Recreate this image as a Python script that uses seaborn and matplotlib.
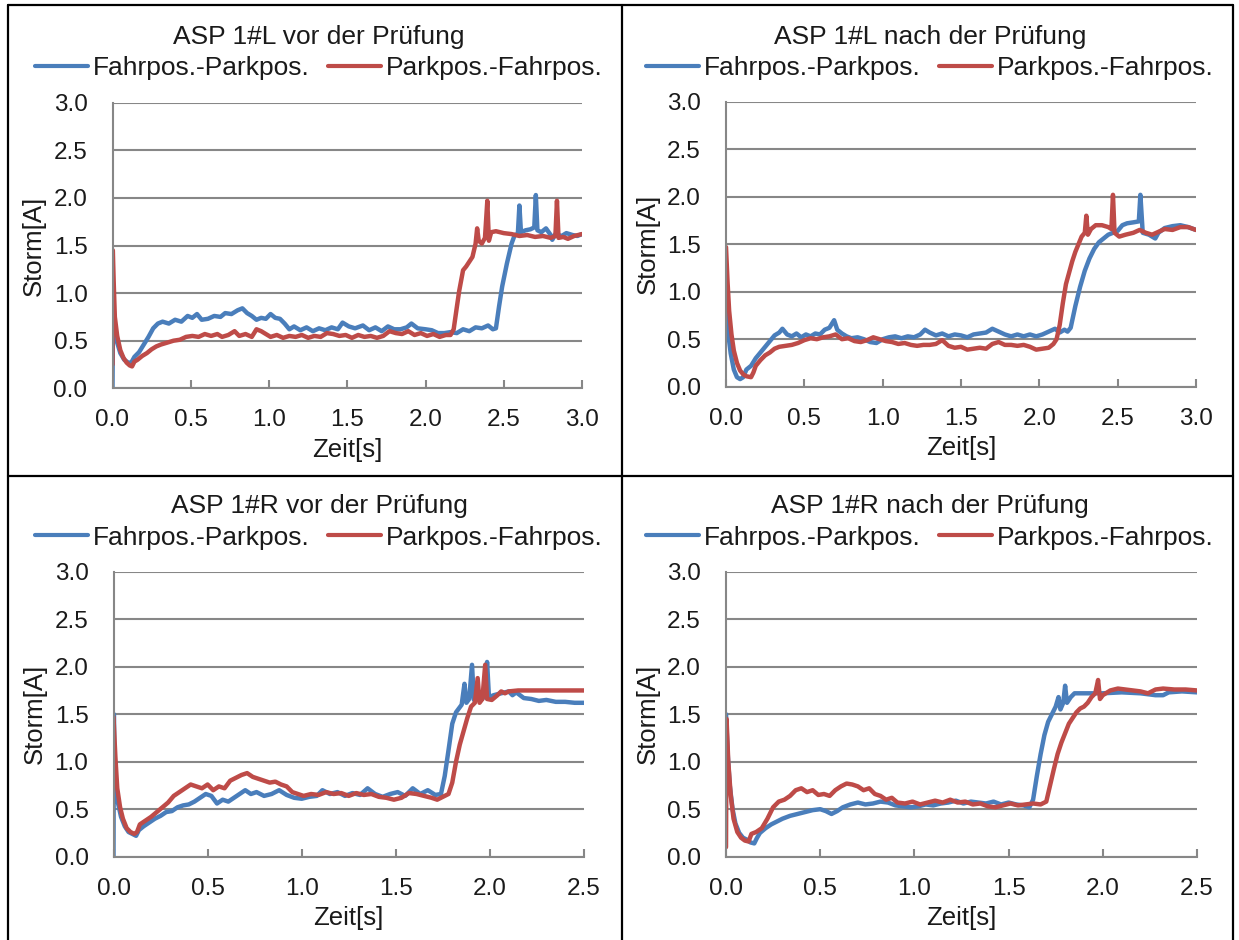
import numpy as np
import pandas as pd
import seaborn as sns
import matplotlib.pyplot as plt
from matplotlib.lines import Line2D
from matplotlib.ticker import FormatStrFormatter

# ---- data ----
series_names = ["Fahrpos.-Parkpos.", "Parkpos.-Fahrpos."]

# ASP 1#L vor der Prüfung
l_vor_fp_t = [0.000, 0.003, 0.015, 0.030, 0.050, 0.075, 0.100, 0.120, 0.140, 0.170, 0.200, 0.230,
              0.260, 0.290, 0.320, 0.360, 0.400, 0.440, 0.480, 0.510, 0.540, 0.570, 0.610, 0.650,
              0.690, 0.720, 0.760, 0.800, 0.830, 0.860, 0.890, 0.920, 0.950, 0.980, 1.010, 1.040,
              1.070, 1.100, 1.130, 1.160, 1.200, 1.240, 1.280, 1.320, 1.360, 1.400, 1.440, 1.470,
              1.510, 1.550, 1.600, 1.640, 1.680, 1.720, 1.760, 1.800, 1.840, 1.880, 1.910, 1.950,
              2.000, 2.040, 2.080, 2.120, 2.160, 2.200, 2.240, 2.280, 2.320, 2.360, 2.400, 2.430,
              2.450, 2.470, 2.490, 2.520, 2.550, 2.570, 2.590, 2.600, 2.610, 2.640, 2.670, 2.695,
              2.705, 2.715, 2.740, 2.770, 2.800, 2.810, 2.830, 2.870, 2.900, 2.940, 2.970, 3.000]
l_vor_fp_i = [0.00, 0.72, 0.62, 0.48, 0.37, 0.30, 0.27, 0.27, 0.33, 0.38, 0.46, 0.54,
              0.63, 0.68, 0.70, 0.68, 0.72, 0.70, 0.76, 0.74, 0.78, 0.72, 0.73, 0.76,
              0.75, 0.79, 0.78, 0.82, 0.84, 0.79, 0.76, 0.72, 0.74, 0.73, 0.78, 0.74,
              0.73, 0.68, 0.62, 0.65, 0.61, 0.64, 0.60, 0.63, 0.61, 0.64, 0.62, 0.69,
              0.65, 0.63, 0.66, 0.61, 0.64, 0.60, 0.65, 0.62, 0.62, 0.64, 0.68, 0.63,
              0.62, 0.61, 0.58, 0.58, 0.59, 0.58, 0.62, 0.60, 0.64, 0.63, 0.66, 0.62,
              0.63, 0.86, 1.07, 1.31, 1.52, 1.61, 1.62, 1.92, 1.64, 1.66, 1.67, 1.69,
              2.03, 1.66, 1.64, 1.68, 1.61, 1.56, 1.62, 1.60, 1.63, 1.61, 1.60, 1.62]
l_vor_pf_t = [0.000, 0.002, 0.008, 0.015, 0.030, 0.050, 0.070, 0.090, 0.110, 0.125, 0.140, 0.160,
              0.190, 0.220, 0.250, 0.280, 0.310, 0.350, 0.390, 0.430, 0.470, 0.510, 0.550, 0.590,
              0.630, 0.670, 0.700, 0.740, 0.780, 0.810, 0.850, 0.890, 0.920, 0.950, 0.980, 1.010,
              1.050, 1.090, 1.130, 1.170, 1.210, 1.250, 1.290, 1.330, 1.370, 1.410, 1.450, 1.490,
              1.530, 1.570, 1.610, 1.650, 1.690, 1.730, 1.770, 1.810, 1.850, 1.890, 1.930, 1.970,
              2.010, 2.050, 2.090, 2.130, 2.160, 2.180, 2.200, 2.215, 2.240, 2.260, 2.280, 2.300,
              2.320, 2.330, 2.340, 2.360, 2.380, 2.395, 2.405, 2.420, 2.450, 2.500, 2.550, 2.600,
              2.650, 2.700, 2.750, 2.800, 2.830, 2.840, 2.850, 2.880, 2.910, 2.950, 3.000]
l_vor_pf_i = [0.25, 1.45, 1.10, 0.75, 0.55, 0.40, 0.32, 0.27, 0.24, 0.23, 0.28, 0.30,
              0.34, 0.37, 0.41, 0.44, 0.46, 0.48, 0.50, 0.51, 0.54, 0.55, 0.54, 0.57,
              0.55, 0.57, 0.54, 0.56, 0.60, 0.55, 0.57, 0.54, 0.62, 0.60, 0.57, 0.54,
              0.56, 0.53, 0.55, 0.54, 0.56, 0.53, 0.55, 0.54, 0.58, 0.57, 0.55, 0.56,
              0.53, 0.56, 0.54, 0.55, 0.53, 0.55, 0.60, 0.58, 0.57, 0.60, 0.56, 0.58,
              0.55, 0.57, 0.54, 0.56, 0.56, 0.62, 0.85, 1.02, 1.24, 1.28, 1.33, 1.38,
              1.52, 1.68, 1.55, 1.52, 1.58, 1.97, 1.55, 1.64, 1.65, 1.63, 1.62, 1.60,
              1.61, 1.59, 1.60, 1.58, 1.60, 1.97, 1.58, 1.59, 1.57, 1.60, 1.62]

# ASP 1#L nach der Prüfung
l_nach_fp_t = [0.000, 0.015, 0.030, 0.050, 0.070, 0.090, 0.110, 0.130, 0.160, 0.190, 0.220, 0.250,
               0.280, 0.310, 0.340, 0.360, 0.390, 0.420, 0.450, 0.480, 0.510, 0.540, 0.570, 0.600,
               0.630, 0.660, 0.690, 0.710, 0.740, 0.770, 0.800, 0.840, 0.880, 0.920, 0.960, 1.000,
               1.040, 1.080, 1.120, 1.160, 1.200, 1.240, 1.270, 1.300, 1.340, 1.380, 1.420, 1.460,
               1.500, 1.540, 1.580, 1.620, 1.660, 1.700, 1.740, 1.780, 1.820, 1.860, 1.900, 1.940,
               1.980, 2.020, 2.060, 2.100, 2.130, 2.160, 2.180, 2.200, 2.230, 2.260, 2.290, 2.320,
               2.350, 2.380, 2.410, 2.440, 2.470, 2.500, 2.530, 2.560, 2.600, 2.635, 2.645, 2.660,
               2.700, 2.740, 2.760, 2.800, 2.850, 2.900, 2.950, 3.000]
l_nach_fp_i = [0.80, 0.55, 0.35, 0.18, 0.10, 0.08, 0.10, 0.18, 0.22, 0.30, 0.36, 0.42,
               0.48, 0.54, 0.57, 0.61, 0.55, 0.53, 0.56, 0.52, 0.55, 0.53, 0.56, 0.55,
               0.60, 0.62, 0.70, 0.60, 0.56, 0.53, 0.51, 0.52, 0.50, 0.47, 0.46, 0.50,
               0.52, 0.53, 0.51, 0.53, 0.52, 0.55, 0.60, 0.57, 0.54, 0.56, 0.53, 0.55,
               0.54, 0.52, 0.55, 0.56, 0.57, 0.61, 0.58, 0.55, 0.53, 0.55, 0.53, 0.55,
               0.53, 0.55, 0.58, 0.61, 0.57, 0.60, 0.58, 0.62, 0.85, 1.05, 1.22, 1.35,
               1.45, 1.52, 1.56, 1.60, 1.62, 1.64, 1.70, 1.72, 1.73, 1.74, 2.02, 1.62,
               1.60, 1.56, 1.62, 1.67, 1.69, 1.70, 1.68, 1.65]
l_nach_pf_t = [0.000, 0.010, 0.020, 0.035, 0.050, 0.070, 0.090, 0.110, 0.130, 0.160, 0.175, 0.190,
               0.220, 0.250, 0.280, 0.310, 0.340, 0.380, 0.420, 0.460, 0.500, 0.540, 0.580, 0.620,
               0.660, 0.700, 0.740, 0.780, 0.820, 0.860, 0.900, 0.940, 0.980, 1.020, 1.060, 1.100,
               1.140, 1.180, 1.220, 1.260, 1.300, 1.340, 1.380, 1.420, 1.460, 1.500, 1.540, 1.580,
               1.620, 1.660, 1.700, 1.740, 1.780, 1.820, 1.860, 1.900, 1.940, 1.980, 2.020, 2.060,
               2.090, 2.110, 2.130, 2.150, 2.170, 2.190, 2.210, 2.230, 2.250, 2.270, 2.290, 2.300,
               2.310, 2.330, 2.360, 2.400, 2.440, 2.460, 2.470, 2.480, 2.510, 2.550, 2.600, 2.640,
               2.680, 2.720, 2.760, 2.800, 2.850, 2.900, 2.950, 3.000]
l_nach_pf_i = [1.47, 1.10, 0.80, 0.55, 0.38, 0.25, 0.17, 0.13, 0.11, 0.10, 0.15, 0.22,
               0.28, 0.33, 0.36, 0.40, 0.42, 0.43, 0.44, 0.46, 0.49, 0.51, 0.50, 0.52,
               0.53, 0.55, 0.50, 0.51, 0.48, 0.47, 0.49, 0.52, 0.50, 0.48, 0.47, 0.45,
               0.46, 0.44, 0.43, 0.44, 0.44, 0.45, 0.49, 0.43, 0.41, 0.42, 0.39, 0.40,
               0.41, 0.40, 0.45, 0.47, 0.44, 0.44, 0.43, 0.44, 0.42, 0.39, 0.40, 0.41,
               0.45, 0.50, 0.65, 0.88, 1.08, 1.20, 1.32, 1.42, 1.50, 1.58, 1.62, 1.80,
               1.60, 1.66, 1.70, 1.70, 1.68, 1.66, 2.02, 1.62, 1.58, 1.60, 1.62, 1.65,
               1.62, 1.60, 1.63, 1.66, 1.65, 1.68, 1.68, 1.65]

# ASP 1#R vor der Prüfung
r_vor_fp_t = [0.000, 0.002, 0.006, 0.020, 0.040, 0.060, 0.080, 0.100, 0.120, 0.135, 0.160, 0.190,
              0.220, 0.250, 0.280, 0.310, 0.340, 0.370, 0.400, 0.430, 0.460, 0.490, 0.520, 0.550,
              0.580, 0.610, 0.640, 0.670, 0.700, 0.730, 0.760, 0.800, 0.840, 0.880, 0.920, 0.960,
              1.000, 1.040, 1.080, 1.110, 1.150, 1.190, 1.230, 1.270, 1.310, 1.350, 1.390, 1.430,
              1.470, 1.510, 1.550, 1.590, 1.630, 1.670, 1.710, 1.740, 1.760, 1.780, 1.800, 1.820,
              1.850, 1.865, 1.875, 1.890, 1.905, 1.915, 1.940, 1.960, 1.975, 1.985, 1.995, 2.020,
              2.060, 2.100, 2.120, 2.140, 2.180, 2.220, 2.260, 2.300, 2.350, 2.400, 2.450, 2.500]
r_vor_fp_i = [0.00, 1.50, 0.78, 0.60, 0.42, 0.32, 0.26, 0.24, 0.22, 0.28, 0.32, 0.36,
              0.40, 0.43, 0.47, 0.48, 0.52, 0.54, 0.55, 0.58, 0.62, 0.66, 0.64, 0.56,
              0.60, 0.58, 0.62, 0.66, 0.70, 0.66, 0.68, 0.64, 0.66, 0.70, 0.65, 0.62,
              0.61, 0.63, 0.64, 0.70, 0.66, 0.68, 0.64, 0.67, 0.65, 0.72, 0.66, 0.63,
              0.66, 0.68, 0.64, 0.72, 0.66, 0.70, 0.65, 0.66, 0.85, 1.12, 1.40, 1.52,
              1.60, 1.82, 1.62, 1.66, 2.02, 1.65, 1.72, 1.66, 1.72, 2.05, 1.68, 1.70,
              1.72, 1.74, 1.70, 1.73, 1.67, 1.66, 1.64, 1.65, 1.63, 1.63, 1.62, 1.62]
r_vor_pf_t = [0.000, 0.010, 0.020, 0.035, 0.050, 0.070, 0.090, 0.110, 0.125, 0.140, 0.170, 0.200,
              0.230, 0.260, 0.290, 0.320, 0.350, 0.380, 0.410, 0.440, 0.470, 0.500, 0.530, 0.560,
              0.590, 0.620, 0.650, 0.680, 0.710, 0.740, 0.770, 0.800, 0.830, 0.860, 0.890, 0.920,
              0.950, 0.980, 1.010, 1.050, 1.090, 1.130, 1.170, 1.210, 1.250, 1.290, 1.330, 1.370,
              1.410, 1.450, 1.490, 1.530, 1.570, 1.610, 1.650, 1.690, 1.720, 1.750, 1.780, 1.800,
              1.820, 1.840, 1.860, 1.880, 1.900, 1.920, 1.935, 1.945, 1.960, 1.975, 1.985, 2.010,
              2.040, 2.060, 2.080, 2.100, 2.150, 2.200, 2.300, 2.400, 2.500]
r_vor_pf_i = [1.47, 1.05, 0.72, 0.52, 0.40, 0.30, 0.26, 0.24, 0.26, 0.34, 0.38, 0.42,
              0.47, 0.52, 0.57, 0.64, 0.68, 0.72, 0.76, 0.74, 0.72, 0.76, 0.70, 0.74,
              0.72, 0.80, 0.83, 0.86, 0.88, 0.84, 0.82, 0.80, 0.78, 0.79, 0.76, 0.74,
              0.68, 0.66, 0.64, 0.66, 0.65, 0.68, 0.66, 0.67, 0.64, 0.67, 0.65, 0.66,
              0.63, 0.62, 0.60, 0.62, 0.67, 0.66, 0.64, 0.62, 0.60, 0.63, 0.66, 0.78,
              1.00, 1.18, 1.32, 1.46, 1.58, 1.62, 1.88, 1.62, 1.66, 2.02, 1.66, 1.65,
              1.70, 1.74, 1.72, 1.74, 1.75, 1.75, 1.75, 1.75, 1.75]

# ASP 1#R nach der Prüfung
r_nach_fp_t = [0.000, 0.010, 0.020, 0.035, 0.050, 0.070, 0.090, 0.110, 0.130, 0.150, 0.165, 0.180,
               0.210, 0.240, 0.270, 0.300, 0.340, 0.380, 0.420, 0.460, 0.500, 0.530, 0.560, 0.590,
               0.620, 0.660, 0.700, 0.740, 0.780, 0.820, 0.860, 0.900, 0.940, 0.980, 1.020, 1.060,
               1.100, 1.140, 1.180, 1.220, 1.260, 1.300, 1.340, 1.380, 1.420, 1.460, 1.500, 1.540,
               1.580, 1.610, 1.630, 1.650, 1.670, 1.690, 1.710, 1.730, 1.750, 1.765, 1.775, 1.790,
               1.800, 1.810, 1.830, 1.850, 1.900, 2.000, 2.100, 2.200, 2.280, 2.320, 2.350, 2.420,
               2.500]
r_nach_fp_i = [1.50, 1.05, 0.75, 0.50, 0.35, 0.25, 0.20, 0.18, 0.15, 0.14, 0.20, 0.25,
               0.30, 0.34, 0.37, 0.40, 0.43, 0.45, 0.47, 0.49, 0.50, 0.48, 0.45, 0.48,
               0.52, 0.55, 0.57, 0.55, 0.56, 0.58, 0.57, 0.54, 0.53, 0.52, 0.53, 0.55,
               0.54, 0.56, 0.57, 0.59, 0.56, 0.58, 0.57, 0.56, 0.58, 0.55, 0.57, 0.55,
               0.54, 0.52, 0.60, 0.85, 1.08, 1.28, 1.42, 1.50, 1.58, 1.68, 1.55, 1.62,
               1.80, 1.62, 1.68, 1.72, 1.72, 1.72, 1.73, 1.72, 1.70, 1.70, 1.73, 1.74,
               1.73]
r_nach_pf_t = [0.000, 0.003, 0.012, 0.025, 0.040, 0.060, 0.080, 0.100, 0.120, 0.135, 0.160, 0.190,
               0.220, 0.250, 0.280, 0.310, 0.340, 0.370, 0.400, 0.430, 0.460, 0.490, 0.520, 0.550,
               0.580, 0.610, 0.640, 0.670, 0.700, 0.730, 0.760, 0.790, 0.820, 0.850, 0.880, 0.910,
               0.950, 0.990, 1.030, 1.070, 1.110, 1.150, 1.190, 1.230, 1.270, 1.310, 1.350, 1.390,
               1.430, 1.470, 1.510, 1.550, 1.590, 1.630, 1.670, 1.700, 1.720, 1.740, 1.760, 1.780,
               1.800, 1.820, 1.840, 1.860, 1.880, 1.900, 1.920, 1.940, 1.960, 1.975, 1.985, 2.000,
               2.040, 2.080, 2.120, 2.160, 2.200, 2.240, 2.280, 2.320, 2.380, 2.440, 2.500]
r_nach_pf_i = [0.10, 1.45, 1.00, 0.65, 0.40, 0.26, 0.20, 0.17, 0.16, 0.24, 0.26, 0.30,
               0.40, 0.52, 0.58, 0.60, 0.64, 0.70, 0.72, 0.68, 0.70, 0.65, 0.66, 0.64,
               0.70, 0.74, 0.77, 0.76, 0.74, 0.70, 0.72, 0.66, 0.64, 0.60, 0.62, 0.57,
               0.56, 0.58, 0.55, 0.57, 0.59, 0.57, 0.60, 0.57, 0.58, 0.55, 0.56, 0.53,
               0.52, 0.54, 0.56, 0.54, 0.55, 0.56, 0.55, 0.58, 0.75, 0.92, 1.08, 1.20,
               1.30, 1.40, 1.46, 1.52, 1.56, 1.58, 1.62, 1.68, 1.72, 1.86, 1.66, 1.70,
               1.75, 1.77, 1.76, 1.75, 1.74, 1.72, 1.76, 1.77, 1.76, 1.76, 1.75]

titles = ["ASP 1#L vor der Prüfung", "ASP 1#L nach der Prüfung",
          "ASP 1#R vor der Prüfung", "ASP 1#R nach der Prüfung"]
panel_series = [(l_vor_fp_t, l_vor_fp_i, l_vor_pf_t, l_vor_pf_i),
                (l_nach_fp_t, l_nach_fp_i, l_nach_pf_t, l_nach_pf_i),
                (r_vor_fp_t, r_vor_fp_i, r_vor_pf_t, r_vor_pf_i),
                (r_nach_fp_t, r_nach_fp_i, r_nach_pf_t, r_nach_pf_i)]
x_max = [3.0, 3.0, 2.5, 2.5]

# ---- layout (pixels) ----
W, H = 1239, 940
BLUE, RED = "#4a7ebb", "#be4b48"
GRID = "#878787"
TXT = "#1a1a1a"

sns.set_theme(style="white")
plt.rcParams["font.family"] = ["Liberation Sans", "DejaVu Sans"]

fig = plt.figure(figsize=(W / 100, H / 100), dpi=100)

# plot area boxes: left, right, top, bottom
boxes = [(112.5, 582, 102.7, 388.3), (726, 1196, 101.7, 386.7),
         (113.5, 584, 571.7, 856.7), (726, 1197, 571.7, 856.7)]
centers = [319, 930, 319, 930]
row_off = [0, 0, 469.5, 469.5]

for k in range(4):
    l, r, t, b = boxes[k]
    ax = fig.add_axes([l / W, 1 - b / H, (r - l) / W, (b - t) / H])
    fp_t, fp_i, pf_t, pf_i = panel_series[k]
    df = pd.concat([
        pd.DataFrame({"Zeit": fp_t, "Strom": fp_i, "Richtung": series_names[0]}),
        pd.DataFrame({"Zeit": pf_t, "Strom": pf_i, "Richtung": series_names[1]}),
    ], ignore_index=True)
    sns.lineplot(data=df, x="Zeit", y="Strom", hue="Richtung", hue_order=series_names,
                 palette=[BLUE, RED], estimator=None, sort=False, lw=3.2, ax=ax)

    handles, labels = ax.get_legend_handles_labels()
    ax.get_legend().remove()
    leg = ax.legend(handles, labels, loc="center",
                    bbox_to_anchor=(centers[k] / W, 1 - (68 + row_off[k]) / H),
                    bbox_transform=fig.transFigure, ncol=2, frameon=False, fontsize=19,
                    handlelength=2.0, handletextpad=0.2, columnspacing=0.7,
                    borderpad=0, borderaxespad=0)
    for h in leg.get_lines():
        h.set_linewidth(3)
    for txt in leg.get_texts():
        txt.set_color(TXT)

    fig.text(centers[k] / W, 1 - (44 + row_off[k]) / H, titles[k], ha="center",
             va="baseline", fontsize=19, color=TXT)

    ax.set_xlim(0, x_max[k])
    ax.set_ylim(0, 3)
    ax.set_xticks(np.arange(0, x_max[k] + 0.01, 0.5))
    ax.set_yticks(np.arange(0, 3.01, 0.5))
    ax.xaxis.set_major_formatter(FormatStrFormatter("%.1f"))
    ax.yaxis.set_major_formatter(FormatStrFormatter("%.1f"))
    ax.yaxis.grid(True, color=GRID, lw=1.5)
    ax.xaxis.grid(False)
    ax.set_axisbelow(True)
    for side in ["top", "right"]:
        ax.spines[side].set_visible(False)
    for side in ["left", "bottom"]:
        ax.spines[side].set_color(GRID)
        ax.spines[side].set_linewidth(1.5)
    ax.tick_params(axis="x", direction="in", length=6, width=1.5, color=GRID, pad=15,
                   labelsize=17.5, labelcolor=TXT, bottom=True)
    ax.tick_params(axis="y", length=0, pad=18, labelsize=17.5, labelcolor=TXT)

    ax.set_xlabel("Zeit[s]", fontsize=18.5, color=TXT)
    ax.set_ylabel("Storm[A]", fontsize=18.5, color=TXT)
    ax.xaxis.label.set_va("center")
    ax.yaxis.label.set_va("center")
    ax.xaxis.set_label_coords(0.5, -61.5 / (b - t))
    ax.yaxis.set_label_coords(-78.5 / (r - l), 0.5)

# table borders around the four charts
for x0, y0, x1, y1 in [(8, 5, 1233, 5), (8, 475.5, 1233, 475.5), (8, 5, 8, 940),
                       (621.5, 5, 621.5, 940), (1233, 5, 1233, 940)]:
    fig.add_artist(Line2D([x0 / W, x1 / W], [1 - y0 / H, 1 - y1 / H],
                          transform=fig.transFigure, color="black", lw=1.6))

fig.savefig("out.png", dpi=100)
